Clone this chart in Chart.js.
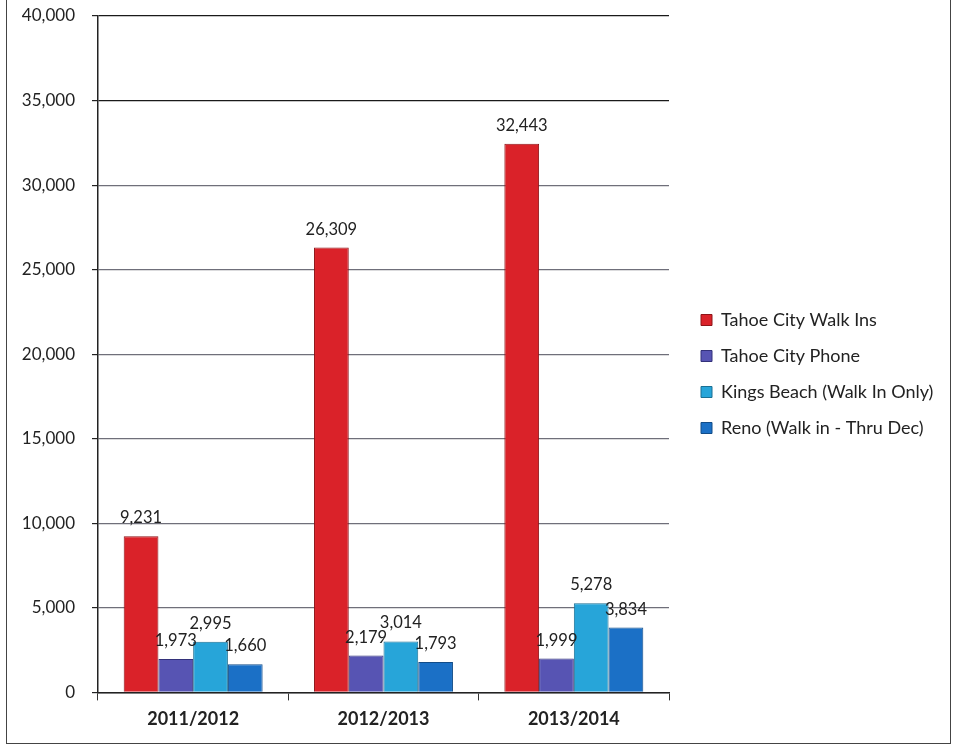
<!DOCTYPE html>
<html>
<head>
<meta charset="utf-8">
<script src="https://cdn.jsdelivr.net/npm/chart.js@4.4.1/dist/chart.umd.min.js"></script>
<style>
  html, body { margin: 0; padding: 0; background: #fff; }
  #wrap { position: relative; width: 957px; height: 744px; overflow: hidden; }
  #frame {
    position: absolute; left: 6px; top: -4px; width: 943px; height: 746px;
    border: 1.5px solid #444; pointer-events: none;
  }
</style>
</head>
<body>
<div id="wrap">
  <canvas id="c" width="957" height="744"></canvas>
  <div id="frame"></div>
</div>
<script>
const categories = ["2011/2012", "2012/2013", "2013/2014"];

const tahoeWalkIns = [9231, 26309, 32443];
const tahoePhone   = [1973, 2179, 1999];
const kingsBeach   = [2995, 3014, 5278];
const renoWalkIn   = [1660, 1793, 3834];

const seriesNames = [
    "Tahoe City Walk Ins",
    "Tahoe City Phone",
    "Kings Beach (Walk In Only)",
    "Reno (Walk in - Thru Dec)",
];

const COLORS = {
    red:    "#da2229",
    purple: "#5754b3",
    cyan:   "#27a5d9",
    blue:   "#1b70c6",
};
const EDGES = {
    red:    "#8e1418",
    purple: "#33317a",
    cyan:   "#1a6f93",
    blue:   "#124c88",
};

const FONT = "Lato, 'Open Sans', sans-serif";
const LEGEND_ITEM_X = 701;   // where the legend swatches start

function fmt(n) {
    return Number(n).toLocaleString("en-US");
}

// labels above each bar, Excel style
const barLabels = {
    id: "barLabels",
    afterDatasetsDraw(chart) {
        const ctx = chart.ctx;
        ctx.save();
        ctx.font = `16.5px ${FONT}`;
        ctx.fillStyle = "#222";
        ctx.textAlign = "center";
        ctx.textBaseline = "alphabetic";
        chart.data.datasets.forEach((ds, i) => {
            const meta = chart.getDatasetMeta(i);
            meta.data.forEach((bar, j) => {
                ctx.fillText(fmt(ds.data[j]), bar.x, bar.y - 13);
            });
        });
        ctx.restore();
    }
};

// push the legend a bit away from the plot, like the original,
// and let it use the rest of the width so nothing gets clipped
const legendNudge = {
    id: "legendNudge",
    afterLayout(chart) {
        const lg = chart.legend;
        if (!lg) return;
        const pad = lg.options.labels.padding;
        lg.left = LEGEND_ITEM_X - pad;
        lg.right = chart.width;
        lg.width = lg.right - lg.left;
        lg.top -= 3;
        lg.bottom -= 3;
    }
};

function ds(label, data, key) {
    return {
        label,
        data,
        backgroundColor: COLORS[key],
        borderColor: EDGES[key],
        borderWidth: 1,
        barPercentage: 1.0,
        categoryPercentage: 0.73,
    };
}

new Chart(document.getElementById("c"), {
    type: "bar",
    data: {
        labels: categories,
        datasets: [
            ds(seriesNames[0], tahoeWalkIns, "red"),
            ds(seriesNames[1], tahoePhone, "purple"),
            ds(seriesNames[2], kingsBeach, "cyan"),
            ds(seriesNames[3], renoWalkIn, "blue"),
        ]
    },
    options: {
        responsive: false,
        animation: false,
        layout: { padding: { left: 8, top: 16, right: 88, bottom: 6 } },
        plugins: {
            tooltip: { enabled: false },
            legend: {
                position: "right",
                maxWidth: 200,
                labels: {
                    font: { family: FONT, size: 18 },
                    color: "#222",
                    boxWidth: 11,
                    boxHeight: 11,
                    padding: 18,
                }
            }
        },
        scales: {
            x: {
                grid: {
                    drawOnChartArea: false,
                    drawTicks: true,
                    tickLength: 8,
                    color: "#333",
                },
                border: { color: "#222", width: 1.5 },
                ticks: {
                    font: { family: FONT, size: 18, weight: "bold" },
                    color: "#222",
                    padding: 8,
                }
            },
            y: {
                min: 0,
                max: 40000,
                afterFit: (scale) => {
                    scale.width = 90;
                    scale.paddingTop = 0;
                },
                grid: {
                    color: (c) => (c.tick && c.tick.value >= 35000) ? "#1a1a1a" : "#6f6f7a",
                    lineWidth: 1.2,
                    tickLength: 6,
                    tickColor: "#222",
                },
                border: { color: "#222", width: 1.5 },
                ticks: {
                    stepSize: 5000,
                    font: { family: FONT, size: 17 },
                    color: "#222",
                    padding: 17,
                    callback: (v) => fmt(v),
                }
            }
        }
    },
    plugins: [barLabels, legendNudge]
});
</script>
</body>
</html>
